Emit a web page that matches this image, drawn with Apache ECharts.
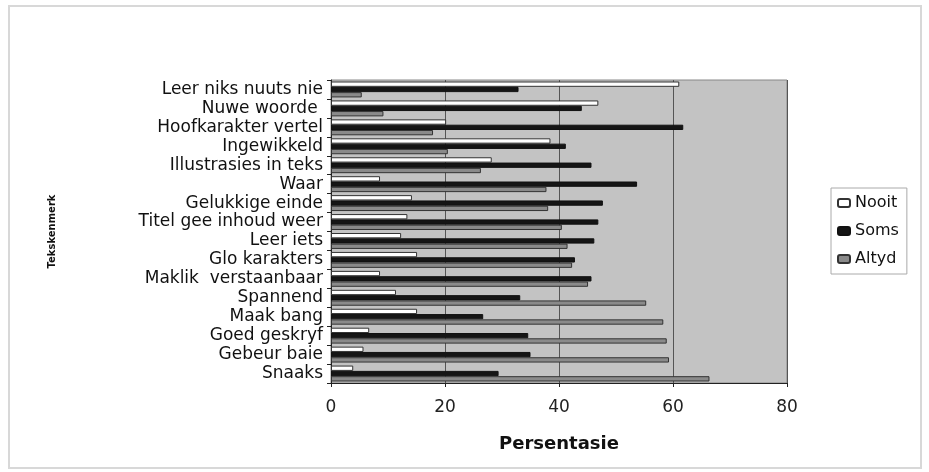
<!DOCTYPE html>
<html><head><meta charset="utf-8">
<script src="https://cdn.jsdelivr.net/npm/echarts@6/dist/echarts.min.js"></script>
<style>html,body{margin:0;padding:0;background:#fff}#c{width:929px;height:472px}</style>
</head><body><div id="c"></div>
<script>
const categories = ["Leer niks nuuts nie","Nuwe woorde ","Hoofkarakter vertel","Ingewikkeld","Illustrasies in teks","Waar","Gelukkige einde","Titel gee inhoud weer","Leer iets","Glo karakters","Maklik  verstaanbaar","Spannend","Maak bang","Goed geskryf","Gebeur baie","Snaaks"];
const nooit = [61.1,46.9,20.2,38.5,28.2,8.6,14.2,13.4,12.3,15.1,8.6,11.4,15.1,6.7,5.7,3.9];
const soms  = [32.9,44.0,61.8,41.2,45.7,53.7,47.7,46.9,46.2,42.8,45.7,33.2,26.7,34.6,35.0,29.4];
const altyd = [5.4,9.2,17.9,20.5,26.3,37.8,38.1,40.5,41.5,42.3,45.1,55.3,58.3,58.9,59.3,66.4];
const xTicks = [0,20,40,60,80];
const seriesNames = ["Nooit","Soms","Altyd"];

const chart = echarts.init(document.getElementById('c'));
const font = '"DejaVu Sans", "Liberation Sans", Arial, sans-serif';
chart.setOption({
  animation:false,
  backgroundColor:'#fff',
  graphic:[{type:'rect',shape:{x:9,y:6,width:912,height:462},style:{fill:'none',stroke:'#d8d8d8',lineWidth:2},silent:true}],
  grid:{left:331,right:142,top:80,bottom:89,show:true,backgroundColor:'#c3c3c3',borderColor:'#888',borderWidth:1},
  legend:{
    orient:'vertical', left:831, top:188, data:seriesNames,
    itemWidth:12, itemHeight:8, itemGap:12,
    borderColor:'#aaa', borderWidth:1, padding:[7,8,7,6],
    textStyle:{fontFamily:font,fontSize:16,color:'#111'}
  },
  xAxis:{
    type:'value', min:xTicks[0], max:xTicks[xTicks.length-1], interval:20,
    name:'Persentasie', nameLocation:'middle', nameGap:52,
    nameTextStyle:{fontFamily:font,fontSize:18,fontWeight:'bold',color:'#111'},
    axisLine:{show:true,lineStyle:{color:'#222'}},
    axisTick:{show:true,length:4,lineStyle:{color:'#222'}},
    axisLabel:{fontFamily:font,fontSize:17,color:'#222',margin:16},
    splitLine:{show:true,lineStyle:{color:'#555',width:1}}
  },
  yAxis:{
    type:'category', data:categories, inverse:true,
    name:'Tekskenmerk', nameLocation:'middle', nameRotate:90, nameGap:274,
    nameTextStyle:{fontFamily:font,fontSize:10,fontWeight:'bold',color:'#111'},
    axisLine:{show:true,lineStyle:{color:'#222'}},
    axisTick:{show:true,length:4,lineStyle:{color:'#222'}},
    axisLabel:{fontFamily:font,fontSize:17,color:'#111',margin:8,interval:0},
    splitLine:{show:false}
  },
  series:[
    {name:seriesNames[0],type:'bar',data:nooit,barGap:'0%',barCategoryGap:'16%',
     itemStyle:{color:'#ffffff',borderColor:'#333',borderWidth:1}},
    {name:seriesNames[1],type:'bar',data:soms,barGap:'0%',barCategoryGap:'16%',
     itemStyle:{color:'#151515',borderColor:'#111',borderWidth:1}},
    {name:seriesNames[2],type:'bar',data:altyd,barGap:'0%',barCategoryGap:'16%',
     itemStyle:{color:'#8a8a8a',borderColor:'#333',borderWidth:1}}
  ]
});
</script></body></html>
